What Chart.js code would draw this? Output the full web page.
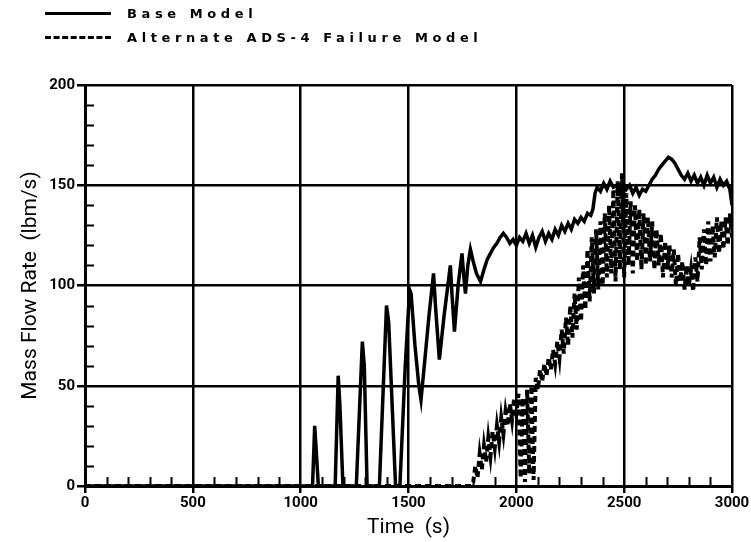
<!DOCTYPE html>
<html>
<head>
<meta charset="utf-8">
<script src="https://cdn.jsdelivr.net/npm/chart.js@4/dist/chart.umd.min.js"></script>
<style>
  html, body { margin: 0; padding: 0; background: #fff; }
  #wrap { position: relative; width: 751px; height: 542px; }
  #c { position: absolute; left: 0; top: 0; }
  .leg { position: absolute; left: 45px; height: 15px; font: bold 13px "DejaVu Sans", sans-serif; letter-spacing: 4.6px; color: #000; white-space: nowrap; }
  .leg .s { display: inline-block; width: 66px; height: 0; vertical-align: middle; margin-right: 16px; position: relative; top: -1px; }
  .solid { border-top: 3px solid #000; }
  .dash { border-top: 3px dashed #000; }
</style>
</head>
<body>
<div id="wrap">
  <canvas id="c" width="751" height="542"></canvas>
  <div class="leg" style="top:6px"><span class="s solid"></span>Base Model</div>
  <div class="leg" style="top:30px"><span class="s dash"></span>Alternate ADS-4 Failure Model</div>
</div>
<script>
// ---- data ----
const seriesNames = ["Base Model", "Alternate ADS-4 Failure Model"];
const xTickValues = [0, 500, 1000, 1500, 2000, 2500, 3000];
const yTickValues = [0, 50, 100, 150, 200];

const baseTime = [0, 1055, 1065, 1072, 1082, 1160, 1174, 1182, 1196, 1258, 1286, 1295, 1308, 1365, 1398, 1408, 1440, 1460, 1485, 1505, 1512, 1530, 1548, 1558, 1575, 1595, 1616, 1625, 1643, 1665, 1694, 1702, 1713, 1730, 1748, 1756, 1764, 1775, 1787, 1800, 1815, 1834, 1850, 1865, 1880, 1895, 1910, 1925, 1940, 1955, 1970, 1985, 2000, 2015, 2030, 2045, 2060, 2075, 2090, 2105, 2120, 2135, 2150, 2165, 2180, 2195, 2210, 2225, 2240, 2255, 2270, 2285, 2300, 2315, 2330, 2345, 2355, 2365, 2375, 2390, 2405, 2420, 2435, 2450, 2465, 2480, 2495, 2510, 2525, 2540, 2555, 2570, 2585, 2600, 2615, 2630, 2645, 2660, 2675, 2690, 2705, 2720, 2735, 2750, 2765, 2780, 2795, 2810, 2825, 2840, 2855, 2870, 2885, 2900, 2915, 2930, 2945, 2960, 2975, 2990, 3000];
const baseFlow = [0, 0, 30, 18, 0, 0, 55, 40, 0, 0, 72, 60, 0, 0, 90, 82, 0, 0, 60, 98, 96, 70, 50, 43, 62, 85, 106, 90, 63, 85, 110, 95, 77, 100, 116, 105, 96, 110, 118, 112, 106, 102, 108, 113, 116, 119, 121, 124, 126, 124, 121, 123, 120, 124, 122, 126, 121, 125, 119, 124, 127, 122, 126, 123, 128, 125, 130, 127, 131, 128, 133, 131, 134, 132, 136, 135, 138, 146, 149, 147, 151, 148, 152, 149, 150, 147, 151, 148, 150, 146, 149, 145, 148, 147, 150, 153, 155, 158, 160, 162, 164, 163, 161, 158, 155, 153, 156, 152, 155, 151, 154, 150, 155, 151, 154, 149, 153, 150, 152, 148, 140];

const altTime = [0, 1790, 1800, 1810, 1820, 1830, 1840, 1850, 1860, 1870, 1880, 1890, 1900, 1910, 1920, 1930, 1940, 1950, 1960, 1970, 1980, 1990, 2000, 2010, 2020, 2030, 2040, 2050, 2060, 2070, 2080, 2090, 2100, 2110, 2120, 2130, 2140, 2150, 2160, 2170, 2180, 2190, 2200, 2210, 2220, 2230, 2240, 2250, 2260, 2270, 2280, 2290, 2300, 2310, 2320, 2330, 2340, 2350, 2360, 2370, 2380, 2390, 2400, 2410, 2420, 2430, 2440, 2450, 2460, 2470, 2480, 2490, 2500, 2510, 2520, 2530, 2540, 2550, 2560, 2570, 2580, 2590, 2600, 2610, 2620, 2630, 2640, 2650, 2660, 2670, 2680, 2690, 2700, 2710, 2720, 2730, 2740, 2750, 2760, 2770, 2780, 2790, 2800, 2810, 2820, 2830, 2840, 2850, 2860, 2870, 2880, 2890, 2900, 2910, 2920, 2930, 2940, 2950, 2960, 2970, 2980, 2990, 3000];
const altFlow = [0, 0, 2, 10, 4, 16, 8, 20, 12, 24, 15, 27, 19, 30, 22, 34, 26, 37, 30, 41, 33, 44, 36, 46, 4, 44, 2, 48, 6, 50, 3, 54, 48, 58, 52, 61, 55, 64, 58, 68, 61, 72, 64, 78, 66, 84, 70, 90, 74, 96, 78, 104, 82, 110, 88, 118, 92, 124, 96, 128, 98, 132, 100, 136, 104, 140, 106, 148, 102, 152, 108, 156, 104, 146, 110, 142, 106, 140, 112, 138, 108, 136, 110, 134, 112, 132, 108, 128, 110, 126, 104, 122, 108, 120, 104, 118, 100, 116, 102, 112, 98, 110, 100, 108, 97, 114, 102, 124, 108, 128, 110, 132, 112, 130, 114, 134, 116, 132, 118, 134, 120, 136, 124];

const xTitle = "Time  (s)";
const yTitle = "Mass Flow Rate  (lbm/s)";

// ---- chart ----
const numFont = { family: "Roboto, 'Liberation Sans', sans-serif", size: 15, weight: "bold" };
const titleFont = { family: "Roboto, 'Liberation Sans', sans-serif", size: 21 };

const minorTicks = {
  id: "minorTicks",
  afterDatasetsDraw(chart) {
    const { ctx, chartArea: a, scales: { x, y } } = chart;
    ctx.save();
    ctx.strokeStyle = "#000";
    ctx.lineWidth = 2;
    ctx.beginPath();
    for (let v = 10; v < 200; v += 10) {
      if (v % 50 === 0) continue;
      const py = Math.round(y.getPixelForValue(v)) + 0.5;
      ctx.moveTo(a.left, py); ctx.lineTo(a.left + 9, py);
    }
    for (let t = 100; t < 3000; t += 100) {
      if (t % 500 === 0) continue;
      const px = Math.round(x.getPixelForValue(t)) + 0.5;
      ctx.moveTo(px, a.bottom); ctx.lineTo(px, a.bottom - 9);
    }
    ctx.stroke();
    ctx.restore();
  }
};

new Chart(document.getElementById("c"), {
  type: "line",
  data: {
    datasets: [
      {
        label: seriesNames[0],
        data: baseTime.map((t, i) => ({ x: t, y: baseFlow[i] })),
        borderColor: "#000", borderWidth: 3.5, pointRadius: 0, tension: 0, fill: false
      },
      {
        label: seriesNames[1],
        data: altTime.map((t, i) => ({ x: t, y: altFlow[i] })),
        borderColor: "#000", borderWidth: 4, borderDash: [6, 4], pointRadius: 0, tension: 0, fill: false
      }
    ]
  },
  options: {
    responsive: false,
    animation: false,
    layout: { padding: { top: 85, right: 19, left: 0, bottom: 0 } },
    plugins: { legend: { display: false }, tooltip: { enabled: false } },
    scales: {
      x: {
        type: "linear", min: 0, max: 3000,
        afterBuildTicks: s => { s.ticks = xTickValues.map(v => ({ value: v })); },
        afterFit: s => { s.height = 56; },
        ticks: { color: "#000", font: numFont, padding: 1, maxRotation: 0, callback: v => String(v) },
        grid: { color: "#000", lineWidth: 2.5, tickLength: 7, drawOnChartArea: true },
        border: { color: "#000", width: 3 },
        title: { display: true, text: xTitle, color: "#000", font: titleFont, padding: { top: 0, bottom: 2 } }
      },
      y: {
        min: 0, max: 200,
        afterBuildTicks: s => { s.ticks = yTickValues.map(v => ({ value: v })); },
        afterFit: s => { s.width = 85; },
        ticks: { color: "#000", font: numFont, padding: 2, callback: v => String(v) },
        grid: { color: "#000", lineWidth: 2.5, tickLength: 8 },
        border: { color: "#000", width: 3 },
        title: { display: true, text: yTitle, color: "#000", font: titleFont, padding: { top: 18, bottom: 0 } }
      }
    }
  },
  plugins: [minorTicks]
});
</script>
</body>
</html>
